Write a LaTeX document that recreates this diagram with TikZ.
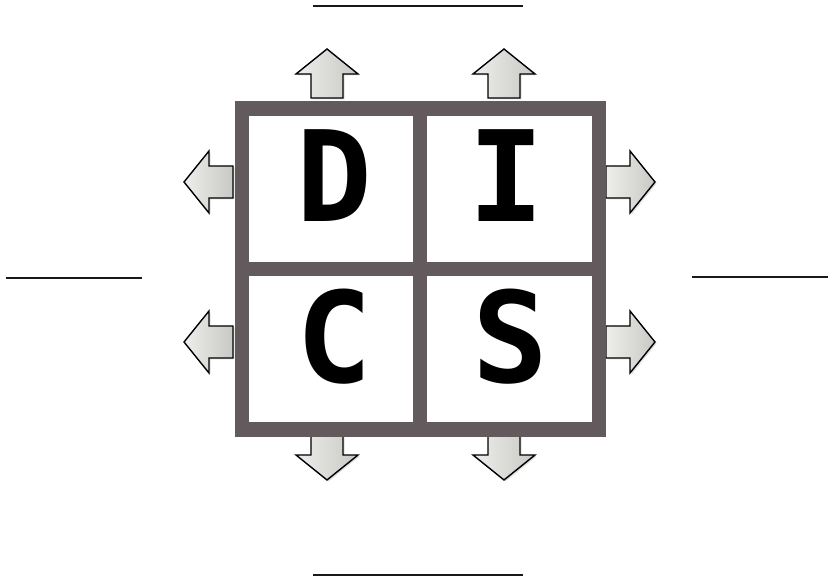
\documentclass[tikz,border=0pt]{standalone}
\usepackage{fontspec}
\newfontfamily\discfont{DejaVu Sans Mono}
\usetikzlibrary{shadows}
\definecolor{framecol}{HTML}{625A5C}
\definecolor{arrowlight}{HTML}{EEEEEC}
\definecolor{arrowdark}{HTML}{C8C8C4}
\tikzset{
  x=1pt, y=1pt,
  framebar/.style={draw=framecol, line width=14.5pt},
  letter/.style={font=\discfont\bfseries\fontsize{126}{126}\selectfont, inner sep=0pt, text=black},
  blank/.style={draw=black!90, line width=2.2pt},
  blockarrow/.pic={
    \path[draw=black, line width=1.4pt, line join=miter,
          left color=arrowlight, right color=arrowdark,
          drop shadow={opacity=0.25, shadow xshift=1.5pt, shadow yshift=-1.5pt}]
      (-16,0) -- (-16,24) -- (-31,24) -- (0,49) -- (31,24) -- (16,24) -- (16,0) -- cycle;
  }
}
\begin{document}
\begin{tikzpicture}
\useasboundingbox (0,0) rectangle (830,580);
\fill[white] (0,0) rectangle (830,580);

% arrows (drawn below the frame)
\pic[rotate=0]   at (327,482) {blockarrow};
\pic[rotate=0]   at (504,482) {blockarrow};
\pic[rotate=180] at (327,149) {blockarrow};
\pic[rotate=180] at (504,149) {blockarrow};
\pic[rotate=90]  at (233,398) {blockarrow};
\pic[rotate=90]  at (233,238) {blockarrow};
\pic[rotate=-90] at (606,398) {blockarrow};
\pic[rotate=-90] at (606,238) {blockarrow};

% frame
\coordinate (tl) at (242,471.5);
\coordinate (br) at (599,150.5);
\fill[white] (tl) rectangle (br);
\draw[framebar] (tl) rectangle (br);
\draw[framebar] (420,471.5) -- (420,150.5);
\draw[framebar] (242,311) -- (599,311);

% letters
\node[letter] (D) at (334,404) {D};
\node[letter] (I) at (506,404) {I};
\node[letter] (C) at (334,243) {C};
\node[letter] (S) at (510,243) {S};

% answer blanks
\coordinate (ta) at (313,574); \coordinate (tb) at (523,574);
\coordinate (ba) at (313,5);   \coordinate (bb) at (523,5);
\coordinate (la) at (6,302);   \coordinate (lb) at (142,302);
\coordinate (ra) at (692,303); \coordinate (rb) at (828,303);
\draw[blank] (ta) -- (tb);
\draw[blank] (ba) -- (bb);
\draw[blank] (la) -- (lb);
\draw[blank] (ra) -- (rb);
\end{tikzpicture}
\end{document}
